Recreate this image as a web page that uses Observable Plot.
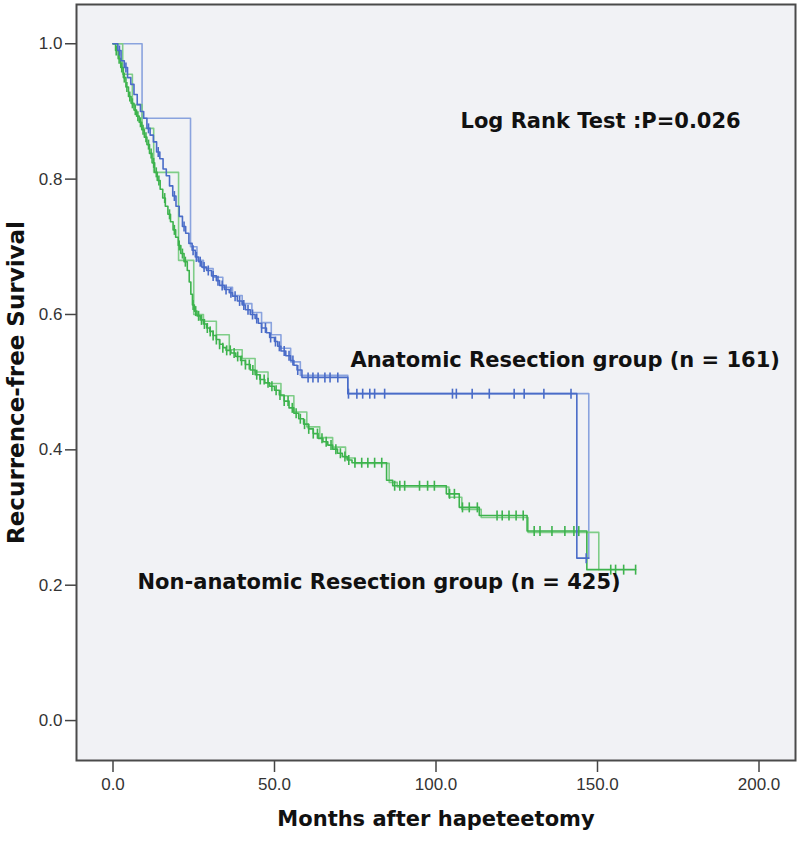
<!DOCTYPE html>
<html>
<head>
<meta charset="utf-8">
<script src="https://cdn.jsdelivr.net/npm/d3@7"></script>
<script src="https://cdn.jsdelivr.net/npm/@observablehq/plot@0.6"></script>
<style>
  html, body { margin: 0; padding: 0; background: #ffffff; }
  #chart { width: 800px; height: 841px; }
</style>
</head>
<body>
<div id="chart"></div>
<script>
// ---------- data ----------
const xTicks = [0, 50, 100, 150, 200];
const yTicks = [0, 0.2, 0.4, 0.6, 0.8, 1.0];

// Anatomic resection group (n = 161): main KM curve
const anatTime = [0, 1.5, 2.5, 3.5, 4.5, 5.5, 6.5, 7.5, 8.5, 9.5, 10.5, 11.5, 12.5, 13.5, 14.5, 15.5, 16.5, 17.5, 18.5, 19.5, 20.5, 21.5, 22.5, 23.5, 24.5, 25.5, 26.5, 27.5, 29, 30.5, 32, 33, 34.5, 36, 37, 38.5, 40, 41, 42.5, 44, 45, 46, 47.5, 48.5, 50, 51, 52, 53.5, 55, 56, 57, 58.5, 72.7, 143.6, 147.3];
const anatSurv = [1.0, 0.99, 0.975, 0.965, 0.95, 0.94, 0.925, 0.91, 0.9, 0.89, 0.875, 0.865, 0.855, 0.84, 0.83, 0.815, 0.805, 0.79, 0.775, 0.76, 0.745, 0.73, 0.72, 0.705, 0.695, 0.685, 0.678, 0.67, 0.665, 0.657, 0.65, 0.643, 0.637, 0.632, 0.627, 0.62, 0.614, 0.607, 0.6, 0.594, 0.587, 0.58, 0.573, 0.566, 0.56, 0.553, 0.546, 0.539, 0.532, 0.525, 0.518, 0.507, 0.483, 0.24, 0.24];
// Anatomic group: second (doubled) trace
const anatTime2 = [0, 9, 24, 26, 28, 31, 34, 37, 40, 43, 46, 49, 52, 55, 58, 72.7, 147.3, 147.3];
const anatSurv2 = [1.0, 0.89, 0.70, 0.68, 0.668, 0.655, 0.64, 0.628, 0.616, 0.603, 0.588, 0.57, 0.55, 0.53, 0.51, 0.483, 0.24, 0.24];
const anatCensor = [2, 4, 11, 14, 19, 22, 24.8, 25.8, 27, 28.2, 29.5, 31, 32.5, 33.8, 35, 36.5, 37.8, 39.2, 40.5, 41.8, 43.2, 44.5, 46, 47.2, 48.8, 50.3, 51.5, 53, 54.5, 55.7, 57.2, 60.4, 61.9, 63.5, 65.6, 67.2, 69.6, 72.9, 75.5, 77.3, 79.5, 81, 84.1, 105.1, 106.3, 111.2, 116.5, 124.2, 127.3, 133.4, 141.8, 146.5];

// Non-anatomic resection group (n = 425): main KM curve
const nonTime = [0, 0.8, 1.6, 2.4, 3.2, 4.0, 4.8, 5.6, 6.5, 7.3, 8.1, 8.9, 9.7, 10.5, 11.3, 12.1, 12.9, 13.7, 14.6, 15.4, 16.2, 17.0, 17.8, 18.6, 19.4, 20.2, 21.0, 22.0, 23.0, 23.6, 24.1, 24.6, 25.2, 26.0, 27.0, 28.0, 29.0, 30.0, 31.0, 32.0, 33.0, 34.0, 35.0, 36.5, 38.0, 39.5, 41.0, 42.5, 44.0, 45.5, 47.0, 48.5, 50.0, 51.5, 53.0, 54.5, 56.0, 57.5, 59.0, 60.5, 62.0, 63.5, 65.0, 66.5, 68.0, 69.5, 71.0, 72.5, 74.0, 84.7, 86.6, 103.2, 107.2, 113.4, 128.2, 146.7, 161.8];
const nonSurv = [1.0, 0.99, 0.978, 0.965, 0.95, 0.936, 0.922, 0.912, 0.902, 0.893, 0.884, 0.873, 0.862, 0.851, 0.838, 0.824, 0.81, 0.798, 0.785, 0.772, 0.76, 0.748, 0.737, 0.725, 0.714, 0.702, 0.69, 0.678, 0.665, 0.648, 0.63, 0.614, 0.605, 0.598, 0.592, 0.586, 0.58, 0.575, 0.569, 0.563, 0.556, 0.551, 0.547, 0.543, 0.538, 0.532, 0.526, 0.518, 0.511, 0.504, 0.499, 0.494, 0.488, 0.481, 0.472, 0.462, 0.454, 0.446, 0.438, 0.431, 0.424, 0.417, 0.412, 0.407, 0.401, 0.395, 0.39, 0.385, 0.381, 0.355, 0.347, 0.335, 0.315, 0.303, 0.28, 0.223, 0.223];
// Non-anatomic group: second (doubled) trace
const nonTime2 = [0, 3, 6, 9, 12.6, 20.3, 25, 28, 32, 36, 40, 44, 48, 52, 56, 60, 64, 68, 72, 75, 85.5, 88, 104, 108, 114, 128.5, 150.4, 150.4];
const nonSurv2 = [1.0, 0.955, 0.91, 0.875, 0.81, 0.68, 0.60, 0.59, 0.57, 0.548, 0.535, 0.515, 0.498, 0.48, 0.456, 0.434, 0.418, 0.404, 0.388, 0.38, 0.352, 0.345, 0.33, 0.312, 0.3, 0.278, 0.223, 0.223];
const nonCensor = [1.0, 1.9, 2.7, 3.5, 4.3, 5.2, 6.0, 6.9, 7.7, 8.5, 9.3, 10.2, 11.0, 11.8, 12.6, 13.4, 14.2, 16.0, 17.5, 19.0, 20.5, 21.5, 22.4, 24.8, 25.6, 26.5, 27.4, 28.3, 29.2, 30.1, 31, 32, 33, 34, 35.2, 36.3, 37.5, 38.6, 39.8, 41, 42.2, 43.3, 44.5, 45.6, 46.8, 48, 49.2, 50.5, 51.7, 53, 54.2, 55.5, 56.7, 58, 59.3, 60.6, 62, 63.3, 64.7, 66, 67.5, 69, 70.4, 71.8, 73, 74.9, 77, 78.9, 81, 83.2, 87.2, 88.8, 90.3, 94.9, 97.4, 99.5, 104.2, 105.7, 108.2, 110.3, 112.8, 118.9, 120.5, 122.6, 124.8, 127, 130.4, 132.2, 135.9, 139.9, 142.7, 144.2, 154.1, 155.6, 158.1, 161.8];

const pText = "Log Rank Test :P=0.026";
const anatLabel = "Anatomic Resection group (n = 161)";
const nonLabel = "Non-anatomic Resection group (n = 425)";
const xTitle = "Months after hapeteetomy";
const yTitle = "Recurrence-free Survival";

// ---------- build tables ----------
const toRows = (ts, ss) => ts.map((t, i) => ({t, s: ss[i]}));
const stepAt = (ts, ss, t) => { let v = ss[0]; for (let i = 0; i < ts.length; i++) { if (ts[i] <= t) v = ss[i]; } return v; };
const censorRows = (cs, ts, ss) => cs.map(t => ({t, s: stepAt(ts, ss, t)}));

const anatMain = toRows(anatTime, anatSurv);
const anatGhost = toRows(anatTime2, anatSurv2);
const nonMain = toRows(nonTime, nonSurv);
const nonGhost = toRows(nonTime2, nonSurv2);
const anatC = censorRows(anatCensor, anatTime, anatSurv);
const nonC = censorRows(nonCensor, nonTime, nonSurv);

const vtick = { draw(ctx, size) { const r = Math.sqrt(size / Math.PI); ctx.moveTo(0, -r); ctx.lineTo(0, r); } };

const blue = "#4a6cc8", blue2 = "#8aa3de";
const green = "#3db34d", green2 = "#7fcd88";
const boldFont = "DejaVu Sans, Verdana, sans-serif";

const chart = Plot.plot({
  width: 800,
  height: 841,
  marginLeft: 76,
  marginRight: 5,
  marginTop: 4,
  marginBottom: 81,
  style: { fontFamily: "Liberation Sans, Arial, sans-serif", background: "#ffffff", color: "#333" },
  x: { domain: [-11.3, 211.3], label: null },
  y: { domain: [-0.059, 1.058], label: null },
  marks: [
    Plot.frame({ fill: "#f1f2f5", stroke: "none" }),
    Plot.axisX({ ticks: xTicks, tickFormat: d3.format(".1f"), tickSize: 12, tickPadding: 5, fontSize: 17, stroke: "#444", strokeWidth: 1.5, label: null }),
    Plot.axisY({ ticks: yTicks, tickFormat: d3.format(".1f"), tickSize: 11, tickPadding: 3, fontSize: 17, stroke: "#444", strokeWidth: 1.5, label: null }),
    Plot.line(anatGhost, { x: "t", y: "s", curve: "step-after", stroke: blue2, strokeWidth: 1.6 }),
    Plot.line(nonGhost, { x: "t", y: "s", curve: "step-after", stroke: green2, strokeWidth: 1.6 }),
    Plot.line(nonMain, { x: "t", y: "s", curve: "step-after", stroke: green, strokeWidth: 1.6 }),
    Plot.line(anatMain, { x: "t", y: "s", curve: "step-after", stroke: blue, strokeWidth: 1.6 }),
    Plot.dot(nonC, { x: "t", y: "s", symbol: vtick, r: 5, stroke: green, strokeWidth: 1.6, fill: "none" }),
    Plot.dot(anatC, { x: "t", y: "s", symbol: vtick, r: 5, stroke: blue, strokeWidth: 1.6, fill: "none" }),
    Plot.frame({ stroke: "#4a4a4a", strokeWidth: 2 }),
    Plot.text([pText], { x: 107.6, y: 0.886, text: d => d, textAnchor: "start", fontSize: 21, fontWeight: "bold", fontFamily: boldFont, fill: "#111" }),
    Plot.text([anatLabel], { x: 73.5, y: 0.532, text: d => d, textAnchor: "start", fontSize: 21, fontWeight: "bold", fontFamily: boldFont, fill: "#111" }),
    Plot.text([nonLabel], { x: 7.6, y: 0.204, text: d => d, textAnchor: "start", fontSize: 21, fontWeight: "bold", fontFamily: boldFont, fill: "#111" }),
    Plot.text([xTitle], { frameAnchor: "bottom", dy: 65, textAnchor: "middle", text: d => d, fontSize: 21, fontWeight: "bold", fontFamily: boldFont, fill: "#111" }),
    Plot.text([yTitle], { frameAnchor: "left", dx: -60, textAnchor: "middle", rotate: -90, text: d => d, fontSize: 23, fontWeight: "bold", fontFamily: boldFont, fill: "#111" })
  ]
});
document.getElementById("chart").appendChild(chart);
</script>
</body>
</html>
